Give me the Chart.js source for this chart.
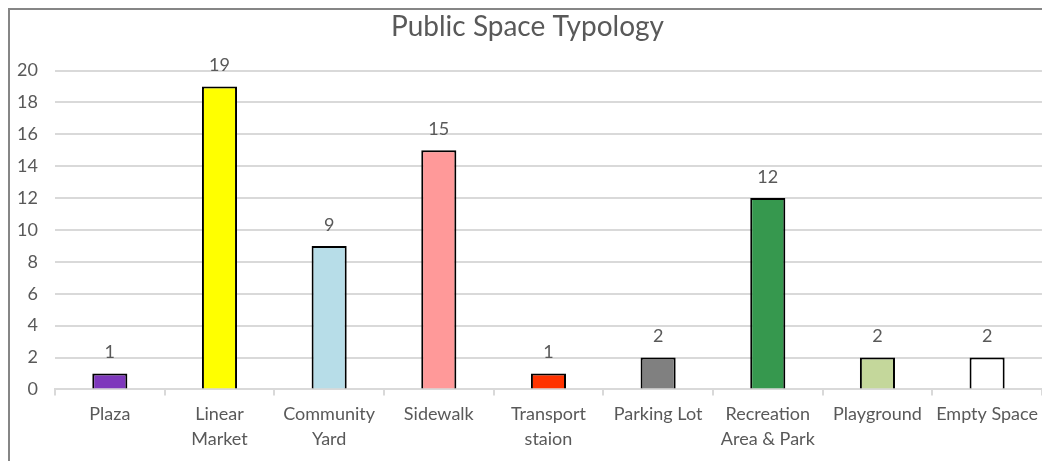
<!DOCTYPE html>
<html>
<head>
<meta charset="utf-8">
<script src="https://cdn.jsdelivr.net/npm/chart.js@4"></script>
<style>
  html, body { margin: 0; padding: 0; background: #fff; overflow: hidden; width: 1042px; height: 461px; }
  #frame { position: absolute; left: 8px; top: 8px; width: 1080px; height: 480px;
           border-left: 2px solid #868686; border-top: 2px solid #868686; }
  #wrap { position: absolute; left: 0; top: 0; width: 1035px; height: 460px; }
</style>
</head>
<body>
<div id="frame"><div id="wrap"><canvas id="myChart"></canvas></div></div>
<script>
// categories (multi-line labels) and counts
var categories = [
  'Plaza', ['Linear', 'Market'], ['Community', 'Yard'], 'Sidewalk',
  ['Transport', 'staion'], 'Parking Lot', ['Recreation', 'Area & Park'],
  'Playground', 'Empty Space'
];
var counts = [1, 19, 9, 15, 1, 2, 12, 2, 2];
var barColors = ['#7E38BC', '#FFFF00', '#B7DDE8', '#FF9999', '#FF3300',
                 '#808080', '#36984E', '#C4D79B', '#FFFFFF'];

var textColor = '#595959';
Chart.defaults.font.family = "Lato, 'Open Sans', sans-serif";
Chart.defaults.color = textColor;

// value labels above each bar
var valueLabels = {
  id: 'valueLabels',
  afterDatasetsDraw: function (chart) {
    var ctx = chart.ctx;
    var meta = chart.getDatasetMeta(0);
    ctx.save();
    ctx.font = '18px Lato, sans-serif';
    ctx.fillStyle = textColor;
    ctx.textAlign = 'center';
    ctx.textBaseline = 'middle';
    meta.data.forEach(function (bar, i) {
      ctx.fillText(counts[i], bar.x, bar.y - 21);
    });
    ctx.restore();
  }
};

var ctx = document.getElementById('myChart').getContext('2d');
var myChart = new Chart(ctx, {
  type: 'bar',
  data: {
    labels: categories,
    datasets: [{
      data: counts,
      backgroundColor: barColors,
      borderColor: '#000000',
      borderWidth: 2,
      borderSkipped: 'bottom',
      categoryPercentage: 1,
      barPercentage: 0.32
    }]
  },
  options: {
    responsive: true,
    maintainAspectRatio: false,
    animation: false,
    layout: { padding: { top: 0, right: 0, bottom: 12, left: 0 } },
    plugins: {
      legend: { display: false },
      tooltip: { enabled: false },
      title: {
        display: true,
        text: 'Public Space Typology',
        color: textColor,
        font: { size: 28, weight: 'normal' },
        padding: { top: 0, bottom: 27 }
      }
    },
    scales: {
      y: {
        min: 0,
        max: 20,
        ticks: { stepSize: 2, padding: 17, font: { size: 18 }, color: textColor },
        grid: { color: '#D9D9D9', lineWidth: 2, drawTicks: false },
        border: { display: false },
        afterFit: function (scale) { scale.width = 45; }
      },
      x: {
        ticks: { padding: 7, font: { size: 18, lineHeight: 1.35 }, color: textColor, maxRotation: 0, autoSkip: false },
        grid: { offset: true, drawOnChartArea: false, drawTicks: true, tickLength: 6, color: '#D9D9D9', lineWidth: 2 },
        border: { color: '#D9D9D9', width: 2 }
      }
    }
  },
  plugins: [valueLabels]
});
</script>
</body>
</html>
